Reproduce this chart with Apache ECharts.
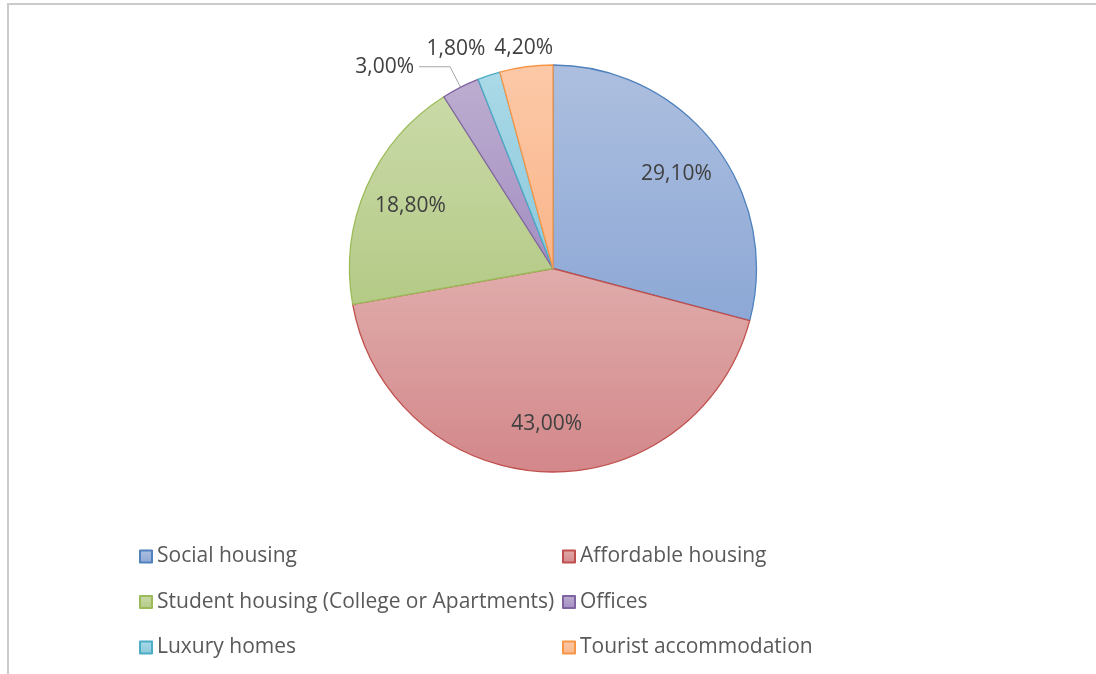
<!DOCTYPE html>
<html>
<head>
<meta charset="utf-8">
<script src="https://cdn.jsdelivr.net/npm/echarts@6/dist/echarts.min.js"></script>
<style>
  html, body { margin: 0; padding: 0; background: #ffffff; }
  #frame {
    position: absolute; left: 7px; top: 3px; right: 0; bottom: 0;
    border-top: 2px solid #cbcbcb; border-left: 2px solid #cbcbcb;
  }
  #chart { position: absolute; left: 0; top: 0; width: 1096px; height: 674px; }
</style>
</head>
<body>
<div id="frame"></div>
<div id="chart"></div>
<script>
// Use of buildings, share of total (%)
const categories = [
  'Social housing',
  'Affordable housing',
  'Student housing (College or Apartments)',
  'Offices',
  'Luxury homes',
  'Tourist accommodation'
];
const shares = [29.1, 43.0, 18.8, 3.0, 1.8, 4.2];

// Slice styling: outline colour plus a top-to-bottom gradient fill
const edgeColors = ['#4f81bd', '#c0504d', '#9bbb59', '#8064a2', '#4bacc6', '#f79646'];
const fillTop    = ['#adbfdf', '#e0acab', '#cadaa8', '#bcadd0', '#abd9e7', '#fcc9a8'];
const fillBottom = ['#8da8d6', '#d3878a', '#b4ca86', '#a48ec2', '#8ac9dc', '#f9b58a'];

const FONT = "'Open Sans', 'Liberation Sans', sans-serif";
const FONT_SIZE = 21;
const CENTER = [553, 268.5];
const RADIUS = 203.5;

// Percent text with a decimal comma, e.g. 29,10%
const pct = v => v.toFixed(2).replace('.', ',') + '%';

// Small slices get their label outside the pie
const outsideLabels = {
  'Offices':               { length: 23,   length2: 31, dist: 5, line: true,  align: 'right'  },
  'Luxury homes':          { length: 28,   length2: 24, dist: 0, line: false, align: 'center' },
  'Tourist accommodation': { length: 18.5, length2: 0,  dist: 0, line: false, align: 'center' }
};

const sliceData = categories.map((name, i) => ({
  name,
  value: shares[i],
  itemStyle: {
    color: new echarts.graphic.LinearGradient(0, 0, 0, 1, [
      { offset: 0, color: fillTop[i] },
      { offset: 1, color: fillBottom[i] }
    ]),
    borderColor: edgeColors[i],
    borderWidth: 1.3
  }
}));

// Transparent ring carrying the value labels so inner labels sit at 3/4 radius
const labelData = categories.map((name, i) => {
  const o = outsideLabels[name];
  const item = { name, value: shares[i] };
  if (o) {
    item.label = {
      position: 'outside',
      distanceToLabelLine: o.dist,
      padding: o.line ? [0, 0, 12, 0] : 0
    };
    item.labelLine = {
      show: o.line,
      length: o.length,
      length2: o.length2,
      lineStyle: { color: '#a6a6a6', width: 1 }
    };
  }
  return item;
});

const legendText = { fontFamily: FONT, fontSize: FONT_SIZE, color: '#595959', lineHeight: 20 };
const legendBase = {
  orient: 'vertical',
  top: 546,
  padding: 0,
  itemWidth: 12,
  itemHeight: 12,
  itemGap: 24.5,
  icon: 'rect',
  selectedMode: false,
  textStyle: legendText
};

const chart = echarts.init(document.getElementById('chart'), null, { renderer: 'canvas' });
chart.setOption({
  backgroundColor: 'transparent',
  animation: false,
  legend: [
    Object.assign({}, legendBase, { left: 139, data: categories.filter((_, i) => i % 2 === 0) }),
    Object.assign({}, legendBase, { left: 562, data: categories.filter((_, i) => i % 2 === 1) })
  ],
  series: [
    {
      type: 'pie',
      center: CENTER,
      radius: [0, RADIUS],
      startAngle: 90,
      clockwise: true,
      label: { show: false },
      labelLine: { show: false },
      emphasis: { disabled: true },
      data: sliceData
    },
    {
      type: 'pie',
      center: CENTER,
      radius: [RADIUS / 2, RADIUS],
      startAngle: 90,
      clockwise: true,
      silent: true,
      avoidLabelOverlap: false,
      emphasis: { disabled: true },
      itemStyle: { color: 'rgba(0,0,0,0)', borderWidth: 0 },
      label: {
        show: true,
        position: 'inside',
        formatter: p => pct(p.value),
        fontFamily: FONT,
        fontSize: FONT_SIZE,
        color: '#404040'
      },
      labelLine: { show: false },
      labelLayout: params => {
        const o = outsideLabels[categories[params.dataIndex]];
        return o ? { align: o.align, hideOverlap: false } : { hideOverlap: false };
      },
      data: labelData
    }
  ]
});
</script>
</body>
</html>
